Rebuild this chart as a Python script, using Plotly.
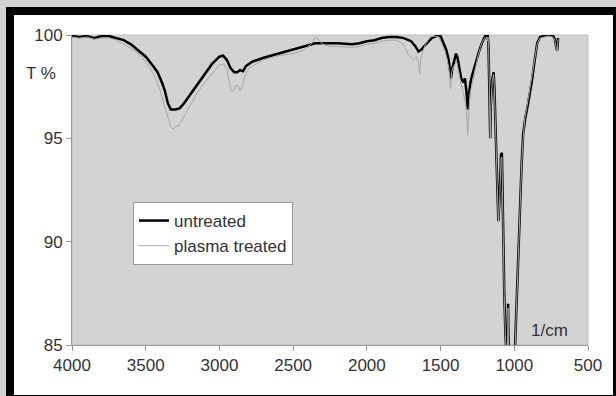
import plotly.graph_objects as go

# ---------------- data ----------------
wn_untreated = [4000, 3950, 3900, 3850, 3800, 3750, 3700, 3650, 3600, 3550, 3500, 3450, 3420, 3390,
                3370, 3350, 3330, 3300, 3270, 3240, 3200, 3150, 3100, 3050, 3000, 2975, 2950, 2925,
                2900, 2880, 2860, 2840, 2820, 2780, 2700, 2600, 2500, 2400, 2350, 2300, 2200, 2100,
                2050, 2000, 1950, 1900, 1850, 1800, 1750, 1700, 1670, 1650, 1630, 1600, 1560, 1530,
                1500, 1480, 1460, 1445, 1430, 1420, 1405, 1395, 1385, 1375, 1360, 1345, 1335, 1325,
                1315, 1305, 1295, 1280, 1265, 1250, 1235, 1220, 1205, 1195, 1185, 1180, 1175, 1170,
                1166, 1163, 1160, 1150, 1140, 1135, 1125, 1118, 1112, 1108, 1100, 1090, 1084, 1080,
                1075, 1068, 1060, 1055, 1048, 1044, 1042, 1040, 1035, 1010, 997, 990, 980, 970, 961,
                950, 940, 925, 906, 893, 880, 865, 855, 845, 825, 805, 770, 737, 725, 715, 710, 706, 703]
t_untreated = [99.95, 99.9, 99.95, 99.85, 99.95, 99.95, 99.85, 99.75, 99.55, 99.25, 98.95, 98.5, 98.2, 97.7,
               97.3, 96.7, 96.4, 96.4, 96.45, 96.7, 97.1, 97.65, 98.15, 98.6, 98.95, 99.0, 98.8, 98.4,
               98.2, 98.2, 98.3, 98.25, 98.5, 98.7, 98.9, 99.1, 99.3, 99.5, 99.6, 99.6, 99.6, 99.55,
               99.6, 99.7, 99.75, 99.85, 99.9, 99.9, 99.85, 99.7, 99.45, 99.2, 99.3, 99.55, 99.85, 99.95,
               99.95, 99.6, 99.25, 98.8, 97.9, 98.4, 98.9, 99.1, 98.9, 98.4, 97.9, 97.7, 97.9, 97.3,
               96.4, 97.3, 97.8, 98.2, 98.6, 99.0, 99.3, 99.6, 99.9, 100.0, 99.8, 100.0, 99.5, 97.5,
               95.5, 95.0, 96.5, 97.8, 98.2, 97.5, 95.0, 93.0, 91.5, 91.0, 92.0, 94.2, 94.3, 92.5,
               89.5, 87.5, 85.5, 84.5, 84.0, 86.0, 87.0, 85.5, 84.0, 83.5, 84.5, 86.0, 88.2, 90.5, 92.0,
               93.8, 95.2, 96.0, 96.7, 97.2, 97.8, 98.6, 99.1, 99.6, 99.9, 99.95, 100.0, 99.95, 99.8, 99.4, 99.25, 99.5, 99.85]

wn_plasma = [4000, 3950, 3900, 3850, 3800, 3750, 3700, 3650, 3600, 3550, 3500, 3470, 3440, 3410,
             3380, 3350, 3330, 3315, 3300, 3280, 3260, 3230, 3200, 3150, 3100, 3050, 3000, 2970,
             2950, 2935, 2920, 2905, 2890, 2875, 2860, 2845, 2830, 2800, 2750, 2700, 2600, 2500,
             2420, 2380, 2350, 2330, 2300, 2250, 2200, 2100, 2050, 2000, 1950, 1900, 1850, 1800,
             1760, 1740, 1720, 1700, 1680, 1665, 1650, 1642, 1635, 1625, 1600, 1570, 1540, 1510,
             1490, 1470, 1455, 1440, 1432, 1425, 1410, 1400, 1390, 1380, 1365, 1350, 1340, 1330,
             1320, 1316, 1310, 1300, 1290, 1275, 1260, 1245, 1230, 1215, 1200, 1190, 1182, 1178,
             1174, 1170, 1166, 1163, 1160, 1150, 1140, 1135, 1125, 1118, 1112, 1108, 1100, 1090,
             1084, 1080, 1075, 1068, 1060, 1055, 1048, 1044, 1042, 1040, 1035, 1010, 997, 990, 980,
             970, 961, 950, 940, 928, 915, 906, 893, 880, 865, 855, 845, 825, 805, 770, 737, 725,
             715, 710, 706, 703]
t_plasma = [99.9, 99.85, 99.9, 99.8, 99.85, 99.85, 99.75, 99.55, 99.35, 99.1, 98.7, 98.4, 98.0, 97.5,
            96.8, 96.0, 95.55, 95.45, 95.55, 95.6, 95.8, 96.2, 96.6, 97.2, 97.7, 98.15, 98.55, 98.6,
            98.35, 97.8, 97.25, 97.3, 97.55, 97.55, 97.3, 97.5, 97.95, 98.4, 98.6, 98.8, 99.0, 99.1,
            99.3, 99.55, 99.9, 99.8, 99.55, 99.45, 99.45, 99.4, 99.45, 99.55, 99.6, 99.7, 99.75, 99.75,
            99.6, 99.4, 99.05, 98.9, 98.8, 98.95, 98.7, 98.1, 98.8, 99.1, 99.6, 99.9, 99.95, 99.9,
            99.55, 99.2, 98.8, 98.2, 97.4, 98.2, 98.5, 98.6, 98.7, 98.3, 97.7, 97.3, 97.0, 96.6,
            95.8, 95.15, 96.0, 97.2, 97.5, 98.0, 98.6, 99.0, 99.4, 99.7, 99.85, 99.9, 99.7, 99.9,
            99.3, 97.4, 95.4, 95.0, 96.4, 97.7, 98.1, 97.4, 95.0, 92.8, 91.3, 90.9, 91.9, 94.0,
            94.1, 92.4, 89.4, 87.4, 85.4, 84.4, 84.0, 85.8, 86.8, 85.4, 84.0, 83.5, 84.4, 85.9, 88.0,
            90.3, 91.8, 93.8, 95.0, 96.0, 96.5, 96.9, 97.4, 97.9, 98.6, 99.1, 99.55, 99.85, 99.9, 99.95, 99.9, 99.75,
            99.35, 99.2, 99.45, 99.8]

x_ticks = [4000, 3500, 3000, 2500, 2000, 1500, 1000, 500]
y_ticks = [85, 90, 95, 100]
series_names = ["untreated", "plasma treated"]

# ---------------- figure ----------------
W, H = 616, 396
L, R, T, B = 72, 28, 35, 51
PW, PH = W - L - R, H - T - B
BG = "#d3d3d3"


def px_x(p):
    return (p - L) / PW


def px_y(p):
    return (H - B - p) / PH


FONT = "Liberation Sans, Arial, sans-serif"
FS = 17

fig = go.Figure()
fig.add_trace(go.Scatter(x=wn_untreated, y=t_untreated, mode="lines", name=series_names[0],
                         line=dict(color="#000000", width=2.5), legendgroup="a"))
fig.add_trace(go.Scatter(x=wn_plasma, y=t_plasma, mode="lines", name=series_names[1],
                         line=dict(color="#a6a6a6", width=1), legendgroup="b"))

shapes = [
    dict(type="rect", xref="paper", yref="paper", x0=px_x(6), x1=px_x(620), y0=px_y(7), y1=px_y(400),
         fillcolor="#000000", line=dict(width=0), layer="below"),
    dict(type="rect", xref="paper", yref="paper", x0=px_x(14), x1=px_x(613), y0=px_y(15), y1=px_y(395),
         fillcolor="#ffffff", line=dict(width=0), layer="below"),
    dict(type="rect", xref="paper", yref="paper", x0=0, x1=1, y0=0, y1=1,
         fillcolor=BG, line=dict(color="#bdbdbd", width=1), layer="below"),
]

fig.update_layout(
    width=W, height=H,
    margin=dict(l=L, r=R, t=T, b=B, autoexpand=False),
    paper_bgcolor=BG,
    plot_bgcolor="rgba(0,0,0,0)",
    font=dict(family=FONT, size=FS, color="#333333"),
    shapes=shapes,
    showlegend=True,
    legend=dict(x=px_x(133), y=px_y(202), xanchor="left", yanchor="top",
                bgcolor="#ffffff", bordercolor="#9a9a9a", borderwidth=1,
                font=dict(family=FONT, size=FS, color="#333333"),
                itemwidth=30, traceorder="grouped", tracegroupgap=0),
    annotations=[
        dict(text="T %", xref="paper", yref="paper", x=px_x(40.5), y=px_y(73),
             xanchor="center", yanchor="middle", showarrow=False,
             font=dict(family=FONT, size=FS, color="#333333")),
        dict(text="1/cm", xref="paper", yref="paper", x=px_x(549.5), y=px_y(330),
             xanchor="center", yanchor="middle", showarrow=False,
             font=dict(family=FONT, size=FS, color="#333333")),
    ],
    xaxis=dict(range=[4000, 500], tickvals=x_ticks, ticktext=[str(v) for v in x_ticks],
               showgrid=False, zeroline=False, showline=True, linecolor="#9a9a9a", linewidth=1,
               ticks="outside", ticklen=5, tickcolor="#9a9a9a"),
    yaxis=dict(range=[85, 100], tickvals=y_ticks, ticktext=[str(v) for v in y_ticks],
               showgrid=False, zeroline=False, showline=True, linecolor="#9a9a9a", linewidth=1,
               ticks="outside", ticklen=5, tickcolor="#9a9a9a"),
)

fig.write_html(
    "out.html",
    config={"displayModeBar": False},
    post_script="document.body.style.margin='0';document.body.style.background='" + BG + "';",
)
